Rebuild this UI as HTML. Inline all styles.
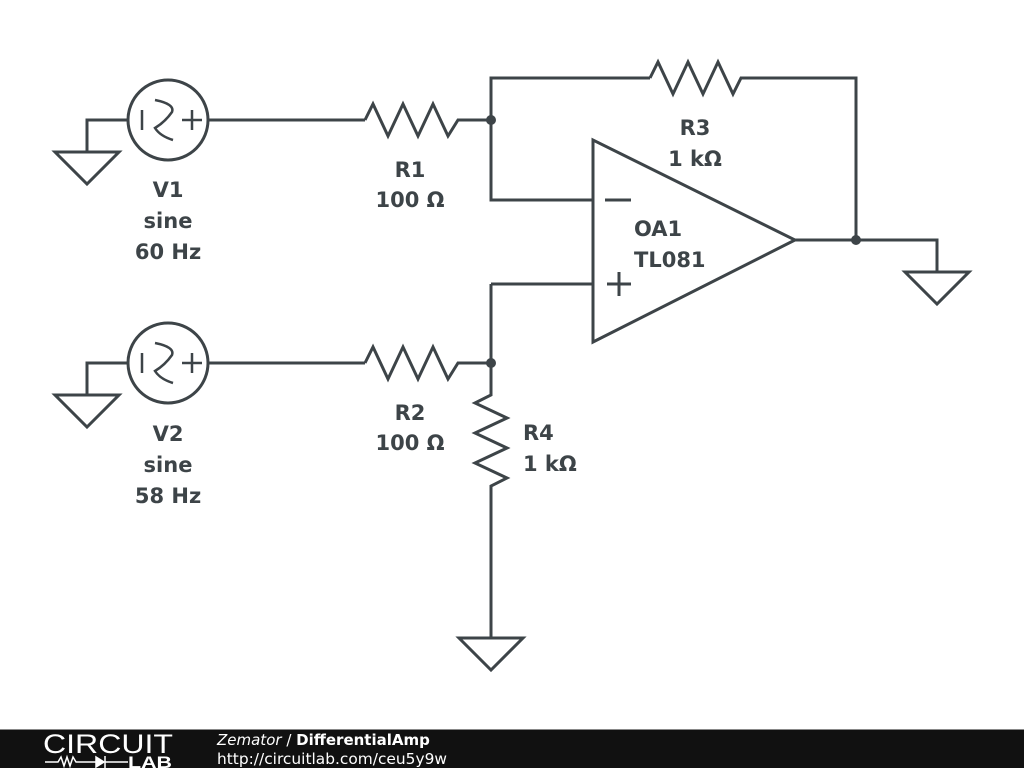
<!DOCTYPE html>
<html><head><meta charset="utf-8"><style>
html,body{margin:0;padding:0;background:#fff;width:1024px;height:768px;overflow:hidden}
svg{display:block}
.t{font-family:"DejaVu Sans","Liberation Sans",sans-serif;font-weight:bold;font-size:21px;fill:#3d4448}
</style></head><body>
<svg width="1024" height="768" viewBox="0 0 1024 768">
<g fill="none" stroke="#3d4448" stroke-width="3" stroke-linejoin="miter">
<circle cx="168" cy="120" r="40"/>
<polyline points="128,120 87,120 87,152"/>
<polygon points="55,152 119,152 87,184"/>
<line x1="142" y1="110" x2="142" y2="130" stroke-width="2.5"/>
<line x1="182" y1="120" x2="202" y2="120" stroke-width="2.5"/>
<line x1="192" y1="110" x2="192" y2="130" stroke-width="2.5"/>
<path d="M155,100 Q175,104 172,112 Q165,122 155,128 Q160,136 173,140" stroke-width="2.5"/>
<line x1="208" y1="120" x2="365" y2="120"/>
<polyline points="365,120 373,104 388,136 403,104 418,136 433,104 448,136 458,120 491,120"/>
<polyline points="491,200 491,78 650,78"/>
<polyline points="650,78 658,62 673,94 688,62 703,94 718,62 733,94 741,78 856,78 856,240"/>
<polyline points="491,120 491,200 593,200"/>
<polygon points="593,140 593,342 795,240"/>
<line x1="605" y1="200" x2="631" y2="200"/>
<line x1="607" y1="284" x2="631" y2="284"/>
<line x1="619" y1="272" x2="619" y2="296"/>
<polyline points="795,240 937,240 937,272"/>
<polygon points="905,272 969,272 937,304"/>
<circle cx="168" cy="363" r="40"/>
<polyline points="128,363 87,363 87,395"/>
<polygon points="55,395 119,395 87,427"/>
<line x1="142" y1="353" x2="142" y2="373" stroke-width="2.5"/>
<line x1="182" y1="363" x2="202" y2="363" stroke-width="2.5"/>
<line x1="192" y1="353" x2="192" y2="373" stroke-width="2.5"/>
<path d="M155,343 Q175,347 172,355 Q165,365 155,371 Q160,379 173,383" stroke-width="2.5"/>
<line x1="208" y1="363" x2="365" y2="363"/>
<polyline points="365,363 373,347 388,379 403,347 418,379 433,347 448,379 458,363 491,363"/>
<polyline points="491,284 593,284"/>
<polyline points="491,284 491,395 475,403 507,418 475,433 507,448 475,463 507,478 491,486 491,638"/>
<polygon points="459,638 523,638 491,670"/>
</g>
<g fill="#3d4448">
<circle cx="491" cy="120" r="5"/>
<circle cx="856" cy="240" r="5"/>
<circle cx="491" cy="363" r="5"/>
</g>
<g class="t" text-anchor="middle">
<text x="168" y="197">V1</text><text x="168" y="228">sine</text><text x="168" y="259">60 Hz</text>
<text x="410" y="177">R1</text><text x="410" y="207">100 Ω</text>
<text x="695" y="135">R3</text><text x="695" y="166">1 kΩ</text>
<text x="168" y="441">V2</text><text x="168" y="472">sine</text><text x="168" y="503">58 Hz</text>
<text x="410" y="420">R2</text><text x="410" y="450">100 Ω</text>
</g>
<g class="t">
<text x="634" y="236">OA1</text><text x="634" y="267">TL081</text>
<text x="523" y="440">R4</text><text x="523" y="471">1 kΩ</text>
</g>
<rect x="0" y="729" width="1024" height="39" fill="#111"/>
<line x1="0" y1="729.5" x2="1024" y2="729.5" stroke="#888" stroke-width="1"/>
<text x="43" y="753" font-family="Liberation Sans,sans-serif" font-size="27" fill="#fff" textLength="130" lengthAdjust="spacingAndGlyphs">CIRCUIT</text>
<g stroke="#fff" stroke-width="1.5" fill="none">
<polyline points="45,762 58,762 61,757 64,766 67,757 70,766 73,757 76,762 96,762"/>
<polygon points="96,757 96,767 104,762" fill="#fff"/>
<line x1="105" y1="756" x2="105" y2="768"/>
<line x1="105" y1="762" x2="128" y2="762"/>
</g>
<text x="128" y="768" font-family="Liberation Sans,sans-serif" font-weight="bold" font-size="17" fill="#fff" textLength="44" lengthAdjust="spacingAndGlyphs">LAB</text>
<text x="217" y="745" font-family="DejaVu Sans,sans-serif" font-size="15" fill="#fff"><tspan font-style="italic">Zemator</tspan> / <tspan font-weight="bold">DifferentialAmp</tspan></text>
<text x="217" y="764" font-family="DejaVu Sans,sans-serif" font-size="15" fill="#fff" textLength="230" lengthAdjust="spacingAndGlyphs">http://circuitlab.com/ceu5y9w</text>
</svg>
</body></html>
